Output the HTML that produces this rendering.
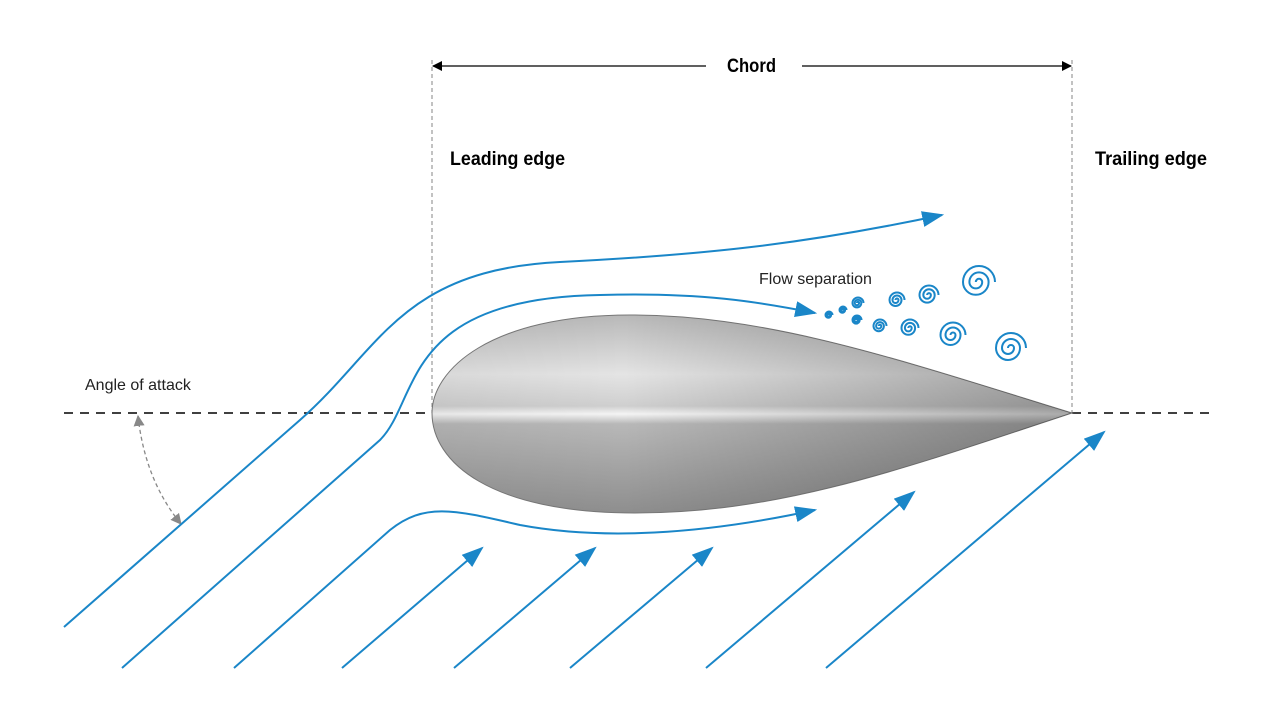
<!DOCTYPE html>
<html><head><meta charset="utf-8"><style>
html,body{margin:0;padding:0;background:#fff}
svg{display:block}
text{font-family:"Liberation Sans",sans-serif}
</style></head><body>
<svg width="1280" height="720" viewBox="0 0 1280 720" xmlns="http://www.w3.org/2000/svg">
<defs>
<linearGradient id="gv" x1="0" y1="315" x2="0" y2="513" gradientUnits="userSpaceOnUse">
<stop offset="0" stop-color="#b8b8b8"/>
<stop offset="0.3" stop-color="#e4e4e4"/>
<stop offset="0.46" stop-color="#cfcfcf"/>
<stop offset="0.5" stop-color="#f4f4f4"/>
<stop offset="0.55" stop-color="#b8b8b8"/>
<stop offset="1" stop-color="#8e8e8e"/>
</linearGradient>
<linearGradient id="gh" x1="432" y1="0" x2="1072" y2="0" gradientUnits="userSpaceOnUse">
<stop offset="0" stop-color="#000" stop-opacity="0.05"/>
<stop offset="0.3" stop-color="#000" stop-opacity="0"/>
<stop offset="1" stop-color="#000" stop-opacity="0.3"/>
</linearGradient>
<marker id="ab" viewBox="0 0 10 10" refX="9" refY="5" markerWidth="10" markerHeight="10" markerUnits="userSpaceOnUse" orient="auto">
<path d="M0,0 L10,5 L0,10 Z" fill="#000"/></marker>
<marker id="ag" viewBox="0 0 10 10" refX="9" refY="5" markerWidth="11" markerHeight="11" markerUnits="userSpaceOnUse" orient="auto-start-reverse">
<path d="M0,0 L10,5 L0,10 Z" fill="#888"/></marker>
<marker id="au" viewBox="0 0 10 10" refX="9" refY="5" markerWidth="22" markerHeight="16" markerUnits="userSpaceOnUse" orient="auto" preserveAspectRatio="none">
<path d="M0,0 L10,5 L0,10 Z" fill="#1a86c8"/></marker>
<path id="sp" d="M10,0 A10,10 0 0 0 -10,0 A8,8 0 0 0 6,0 A6,6 0 0 0 -6,0 A4,4 0 0 0 2,0 A2,2 0 0 0 -2,0" fill="none" stroke="#1a86c8" stroke-width="2" vector-effect="non-scaling-stroke"/>
</defs>

<!-- chord -->
<line x1="706" y1="66" x2="433" y2="66" stroke="#000" stroke-width="1.3" marker-end="url(#ab)"/>
<line x1="802" y1="66" x2="1071" y2="66" stroke="#000" stroke-width="1.3" marker-end="url(#ab)"/>
<text x="727" y="72" font-size="19" font-weight="bold" textLength="49" lengthAdjust="spacingAndGlyphs">Chord</text>
<line x1="432" y1="60" x2="432" y2="413" stroke="#999" stroke-width="1.2" stroke-dasharray="4,3"/>
<line x1="1072" y1="60" x2="1072" y2="413" stroke="#999" stroke-width="1.2" stroke-dasharray="4,3"/>
<text x="450" y="165" font-size="19" font-weight="bold" textLength="115" lengthAdjust="spacingAndGlyphs">Leading edge</text>
<text x="1095" y="165" font-size="19" font-weight="bold" textLength="112" lengthAdjust="spacingAndGlyphs">Trailing edge</text>

<!-- chord baseline -->
<line x1="64" y1="413" x2="1216" y2="413" stroke="#000" stroke-width="1.5" stroke-dasharray="9,7"/>

<!-- airfoil -->
<path d="M1072,413 C900,360 770,315 630,315 C490,315 432,370 432,413 C432,462 490,513 635,513 C780,513 900,470 1072,413 Z" fill="url(#gv)" stroke="#777" stroke-width="1"/>
<path d="M1072,413 C900,360 770,315 630,315 C490,315 432,370 432,413 C432,462 490,513 635,513 C780,513 900,470 1072,413 Z" fill="url(#gh)"/>

<!-- angle of attack -->
<text x="85" y="390" font-size="16" fill="#222">Angle of attack</text>
<path d="M138,416 Q145,480 181,524" fill="none" stroke="#888" stroke-width="1.3" stroke-dasharray="4,3" marker-start="url(#ag)" marker-end="url(#ag)"/>

<!-- streamlines -->
<g fill="none" stroke="#1a86c8" stroke-width="2">
<path d="M64,627 L300,420 C380,350 400,270 560,262 C700,255 800,245 942,215" marker-end="url(#au)"/>
<path d="M122,668 L380,440 C420,400 400,298 600,295 C700,292 760,302 815,313" marker-end="url(#au)"/>
<path d="M234,668 L390,530 C425,502 455,510 520,525 C600,540 700,535 815,510" marker-end="url(#au)"/>
<path d="M342,668 L482,548" marker-end="url(#au)"/>
<path d="M454,668 L595,548" marker-end="url(#au)"/>
<path d="M570,668 L712,548" marker-end="url(#au)"/>
<path d="M706,668 L914,492" marker-end="url(#au)"/>
<path d="M826,668 L1104,432" marker-end="url(#au)"/>
</g>
<text x="759" y="284" font-size="16" fill="#222">Flow separation</text>

<!-- swirls -->
<use href="#sp" transform="translate(829,315) scale(0.35)"/>
<use href="#sp" transform="translate(843,310) scale(0.35)"/>
<use href="#sp" transform="translate(858,303) scale(0.55)"/>
<use href="#sp" transform="translate(857,320) scale(0.45)"/>
<use href="#sp" transform="translate(880,326) scale(0.65)"/>
<use href="#sp" transform="translate(897,300) scale(0.75)"/>
<use href="#sp" transform="translate(910,328) scale(0.85)"/>
<use href="#sp" transform="translate(929,295) scale(0.95)"/>
<use href="#sp" transform="translate(953,335) scale(1.25)"/>
<use href="#sp" transform="translate(979,282) scale(1.6)"/>
<use href="#sp" transform="translate(1011,348) scale(1.5)"/>
</svg>
</body></html>
